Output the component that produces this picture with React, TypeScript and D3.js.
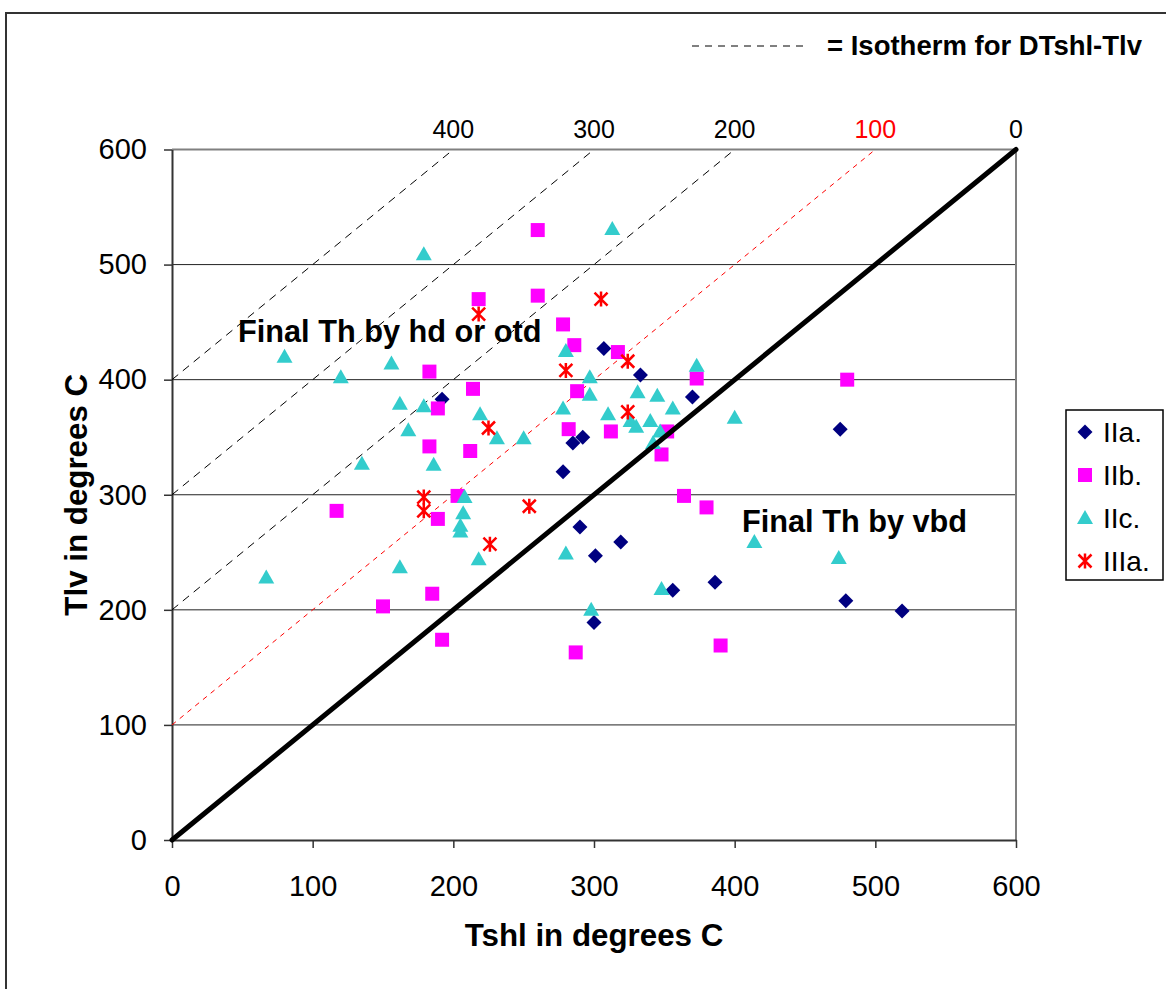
import React, { useEffect, useRef } from "react";
import * as d3 from "d3";

// series values: [Tshl, Tlv]
const seriesIIa: [number, number][] = [
  [192, 383], [307, 427], [333, 404], [370, 385], [475, 357], [292, 350],
  [285, 345], [278, 320], [290, 272], [301, 247], [319, 259], [356, 217],
  [386, 224], [300, 189], [479, 208], [519, 199],
];
const seriesIIb: [number, number][] = [
  [260, 530], [218, 470], [260, 473], [278, 448], [286, 430], [317, 424],
  [373, 401], [214, 392], [288, 390], [183, 407], [189, 375], [183, 342],
  [212, 338], [203, 299], [117, 286], [189, 279], [185, 214], [150, 203],
  [192, 174], [282, 357], [312, 355], [352, 355], [348, 335], [364, 299],
  [380, 289], [390, 169], [287, 163], [480, 400],
];
const seriesIIc: [number, number][] = [
  [179, 509], [80, 420], [120, 402], [156, 414], [162, 379], [179, 377],
  [313, 531], [280, 425], [297, 402], [297, 387], [219, 370], [278, 375],
  [310, 370], [331, 389], [345, 386], [356, 375], [373, 412], [400, 367],
  [168, 356], [135, 327], [186, 326], [208, 298], [207, 284], [205, 273],
  [205, 268], [162, 237], [67, 228], [231, 349], [250, 349], [326, 364],
  [330, 359], [340, 364], [347, 355], [342, 345], [218, 244], [280, 249],
  [348, 218], [298, 200], [414, 259], [474, 245],
];
const seriesIIIa: [number, number][] = [
  [218, 457], [305, 470], [324, 416], [280, 408], [324, 372], [225, 358],
  [254, 290], [226, 257], [179, 298], [179, 286],
];

const seriesNames = ["IIa.", "IIb.", "IIc.", "IIIa."];
const seriesColors = ["#000080", "#FF00FF", "#33CCCC", "#FF0000"];
const seriesShapes = ["diamond", "square", "triangle", "star"];

// isotherms: Tlv = Tshl + d
const isotherms = [400, 300, 200, 100];
const isoLabels = [400, 300, 200, 100, 0];
const axisTicks = [0, 100, 200, 300, 400, 500, 600];

const W = 1166;
const H = 989;
const FONT = "'Liberation Sans', Arial, sans-serif";

function App() {
  const ref = useRef<SVGSVGElement>(null);

  useEffect(() => {
    const svg = d3.select(ref.current);
    svg.selectAll("*").remove();

    const x = d3.scaleLinear().domain([0, 600]).range([172, 1016]);
    const y = d3.scaleLinear().domain([0, 600]).range([840, 149.5]);

    // outer frame (cropped at right / bottom)
    svg
      .append("rect")
      .attr("x", 6)
      .attr("y", 13)
      .attr("width", W + 20)
      .attr("height", H + 20)
      .attr("fill", "none")
      .attr("stroke", "#333")
      .attr("stroke-width", 2);

    // gridlines
    svg
      .append("g")
      .selectAll("line")
      .data(axisTicks.filter((t) => t > 0 && t < 600))
      .join("line")
      .attr("x1", x(0))
      .attr("x2", x(600))
      .attr("y1", (d) => y(d))
      .attr("y2", (d) => y(d))
      .attr("stroke", "#222")
      .attr("stroke-width", 1);

    // plot frame top/right
    svg
      .append("path")
      .attr("d", `M${x(0)},${y(600)}H${x(600)}V${y(0)}`)
      .attr("fill", "none")
      .attr("stroke", "#808080")
      .attr("stroke-width", 2);

    // axes
    const yAxis = svg
      .append("g")
      .attr("transform", `translate(${x(0)},0)`)
      .call(d3.axisLeft(y).tickValues(axisTicks).tickSize(8).tickPadding(17).tickSizeOuter(0));
    const xAxis = svg
      .append("g")
      .attr("transform", `translate(0,${y(0)})`)
      .call(d3.axisBottom(x).tickValues(axisTicks).tickSize(8).tickPadding(27).tickSizeOuter(0));
    [xAxis, yAxis].forEach((g) => {
      g.select(".domain").attr("stroke", "#333").attr("stroke-width", 2);
      g.selectAll(".tick line").attr("stroke", "#333").attr("stroke-width", 1.5);
      g.selectAll(".tick text")
        .attr("font-family", FONT)
        .attr("font-size", 29)
        .attr("fill", "#000");
    });

    // isotherm dashed lines
    svg
      .append("g")
      .selectAll("line")
      .data(isotherms)
      .join("line")
      .attr("x1", x(0))
      .attr("y1", (d) => y(d))
      .attr("x2", (d) => x(600 - d))
      .attr("y2", y(600))
      .attr("stroke", (d) => (d === 100 ? "#FF0000" : "#000"))
      .attr("stroke-width", 1)
      .attr("stroke-dasharray", (d) => (d === 100 ? "5,5" : "8,6"));

    // isotherm labels above the plot
    svg
      .append("g")
      .selectAll("text")
      .data(isoLabels)
      .join("text")
      .attr("x", (d) => x(600 - d))
      .attr("y", 138)
      .attr("text-anchor", "middle")
      .attr("font-family", FONT)
      .attr("font-size", 25)
      .attr("fill", (d) => (d === 100 ? "#FF0000" : "#000"))
      .text((d) => d);

    // markers
    const marker = (shape: string) => {
      if (shape === "square") return d3.symbol(d3.symbolSquare, 196)();
      if (shape === "diamond") return "M0,-7.5L7.5,0L0,7.5L-7.5,0Z";
      if (shape === "triangle") return "M0,-8L8,6L-8,6Z";
      return "M0,-7.5V7.5M-6.5,-6.5L6.5,6.5M-6.5,6.5L6.5,-6.5";
    };
    const allSeries = [seriesIIa, seriesIIb, seriesIIc, seriesIIIa];
    allSeries.forEach((pts, i) => {
      const shape = seriesShapes[i];
      const color = seriesColors[i];
      svg
        .append("g")
        .selectAll("path")
        .data(pts)
        .join("path")
        .attr("transform", (d) => `translate(${x(d[0])},${y(d[1])})`)
        .attr("d", marker(shape))
        .attr("fill", shape === "star" ? "none" : color)
        .attr("stroke", color)
        .attr("stroke-width", shape === "star" ? 2.5 : 0);
    });

    // 1:1 line (DTshl-Tlv = 0)
    svg
      .append("line")
      .attr("x1", x(0))
      .attr("y1", y(0))
      .attr("x2", x(600))
      .attr("y2", y(600))
      .attr("stroke", "#000")
      .attr("stroke-width", 5)
      .attr("stroke-linecap", "round");

    // annotations
    const bold = (t: string, px: number, py: number, size: number) =>
      svg
        .append("text")
        .attr("x", px)
        .attr("y", py)
        .attr("font-family", FONT)
        .attr("font-weight", "bold")
        .attr("font-size", size)
        .text(t);
    bold("Final Th by hd or otd", 238, 342, 30.7);
    bold("Final Th by vbd", 742, 532, 30.7);
    bold("= Isotherm for DTshl-Tlv", 827, 55, 27.5);

    svg
      .append("line")
      .attr("x1", 692)
      .attr("x2", 807)
      .attr("y1", 46)
      .attr("y2", 46)
      .attr("stroke", "#000")
      .attr("stroke-width", 1)
      .attr("stroke-dasharray", "7,6");

    // axis titles
    bold("Tshl in degrees C", (x(0) + x(600)) / 2, 946, 31.3).attr("text-anchor", "middle");
    svg
      .append("text")
      .attr("transform", `translate(87,${(y(0) + y(600)) / 2}) rotate(-90)`)
      .attr("text-anchor", "middle")
      .attr("font-family", FONT)
      .attr("font-weight", "bold")
      .attr("font-size", 31.3)
      .text("Tlv in degrees C");

    // legend
    const legend = svg.append("g");
    legend
      .append("rect")
      .attr("x", 1066)
      .attr("y", 410)
      .attr("width", 97)
      .attr("height", 170)
      .attr("fill", "#fff")
      .attr("stroke", "#000")
      .attr("stroke-width", 1.5);
    seriesNames.forEach((name, i) => {
      const cy = 432 + i * 43;
      legend
        .append("path")
        .attr("transform", `translate(1085,${cy})`)
        .attr("d", marker(seriesShapes[i]))
        .attr("fill", seriesShapes[i] === "star" ? "none" : seriesColors[i])
        .attr("stroke", seriesColors[i])
        .attr("stroke-width", seriesShapes[i] === "star" ? 2.5 : 0);
      legend
        .append("text")
        .attr("x", 1103)
        .attr("y", cy + 10)
        .attr("font-family", FONT)
        .attr("font-size", 28)
        .text(name);
    });
  }, []);

  return (
    <svg
      ref={ref}
      width={W}
      height={H}
      style={{ position: "absolute", left: 0, top: 0, background: "#fff" }}
    />
  );
}

export default App;
